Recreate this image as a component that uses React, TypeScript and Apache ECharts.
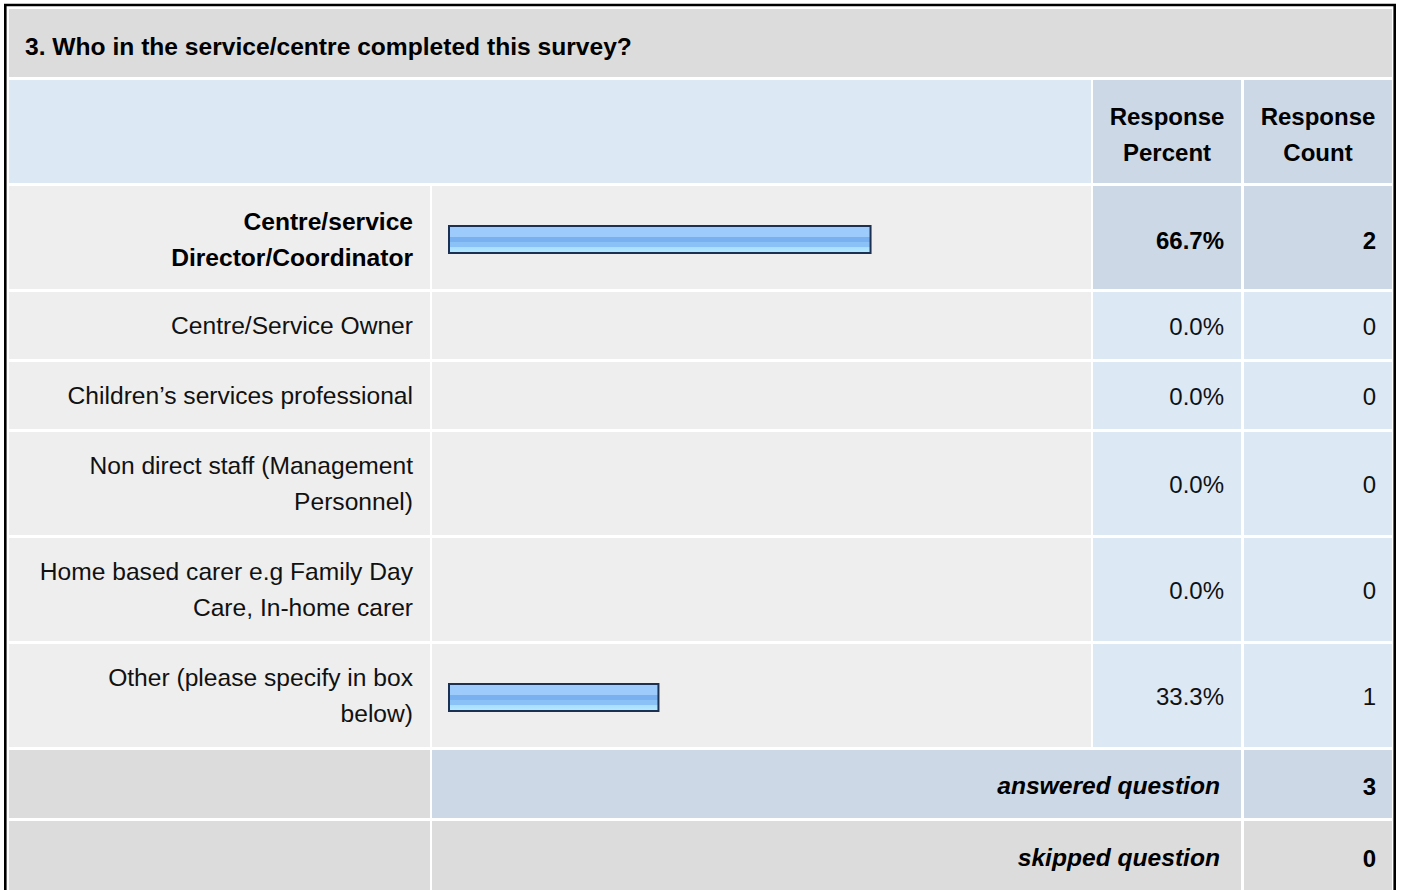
import React, { useEffect, useRef } from "react";
import * as echarts from "echarts";

// ---------- data ----------
const questionTitle = "3. Who in the service/centre completed this survey?";
const headerPercent = "Response\nPercent";
const headerCount = "Response\nCount";
const categories = [
  "Centre/service\nDirector/Coordinator",
  "Centre/Service Owner",
  "Children\u2019s services professional",
  "Non direct staff (Management\nPersonnel)",
  "Home based carer e.g Family Day\nCare, In-home carer",
  "Other (please specify in box\nbelow)",
];
const responsePercent = [66.7, 0.0, 0.0, 0.0, 0.0, 33.3];
const responseCount = [2, 0, 0, 0, 0, 1];
const answeredLabel = "answered question";
const skippedLabel = "skipped question";
const answeredCount = 3;
const skippedCount = 0;

// ---------- layout ----------
const FONT = '"Liberation Sans", Arial, Helvetica, sans-serif';
const FS = 24;
const LH = 36;
const WIDE = 1.025;
const C0 = [9, 430];
const C1 = [432, 1091];
const C2 = [1093, 1241];
const C3 = [1244, 1392];
const TITLE_ROW = [9, 77];
const HEAD_ROW = [80, 183];
const ROWS = [
  [186, 289],
  [292, 359],
  [362, 429],
  [432, 535],
  [538, 641],
  [644, 747],
];
const ANS_ROW = [750, 818];
const SKIP_ROW = [821, 900];

const GRAY_DARK = "#dcdcdc";
const GRAY_LIGHT = "#eeeeee";
const BLUE_LIGHT = "#dde8f5";
const BLUE_DARK = "#ccd8e6";
const TEXT = "#111111";

const BAR_LEFT = 448;
const BAR_FULL = 635;

function rect(x0: number, x1: number, y0: number, y1: number, fill: string) {
  return {
    type: "rect",
    shape: { x: x0, y: y0, width: x1 - x0, height: y1 - y0 },
    style: { fill },
    silent: true,
  };
}

function text(
  str: string,
  x: number,
  y: number,
  align: string,
  opts: { bold?: boolean; italic?: boolean; wide?: boolean } = {}
) {
  return {
    type: "text",
    x,
    y,
    scaleX: opts.wide ? WIDE : 1,
    silent: true,
    style: {
      text: str,
      fill: opts.bold ? "#000" : TEXT,
      fontSize: FS,
      fontFamily: FONT,
      fontWeight: opts.bold ? "bold" : "normal",
      fontStyle: opts.italic ? "italic" : "normal",
      lineHeight: LH,
      textAlign: align,
      textVerticalAlign: "middle",
    },
  };
}

const mid = (r: number[]) => (r[0] + r[1]) / 2;

export default function App() {
  const ref = useRef<HTMLDivElement>(null);

  useEffect(() => {
    document.body.style.margin = "0";
    const chart = echarts.init(ref.current!, null, { renderer: "svg" });

    const topIdx = responseCount.indexOf(Math.max(...responseCount));

    const elements: any[] = [];
    // title
    elements.push(rect(C0[0], C3[1], TITLE_ROW[0], TITLE_ROW[1], GRAY_DARK));
    elements.push(text(questionTitle, 25, mid(TITLE_ROW) + 4, "left", { bold: true, wide: true }));
    // header
    elements.push(rect(C0[0], C1[1], HEAD_ROW[0], HEAD_ROW[1], BLUE_LIGHT));
    elements.push(rect(C2[0], C2[1], HEAD_ROW[0], HEAD_ROW[1], BLUE_DARK));
    elements.push(rect(C3[0], C3[1], HEAD_ROW[0], HEAD_ROW[1], BLUE_DARK));
    elements.push(text(headerPercent, mid(C2), mid(HEAD_ROW) + 3, "center", { bold: true }));
    elements.push(text(headerCount, mid(C3), mid(HEAD_ROW) + 3, "center", { bold: true }));
    // rows
    categories.forEach((cat, i) => {
      const r = ROWS[i];
      const hi = i === topIdx;
      elements.push(rect(C0[0], C0[1], r[0], r[1], GRAY_LIGHT));
      elements.push(rect(C1[0], C1[1], r[0], r[1], GRAY_LIGHT));
      elements.push(rect(C2[0], C2[1], r[0], r[1], hi ? BLUE_DARK : BLUE_LIGHT));
      elements.push(rect(C3[0], C3[1], r[0], r[1], hi ? BLUE_DARK : BLUE_LIGHT));
      const cy = mid(r) + (i === 0 ? 2.5 : 0.5);
      elements.push(text(cat, 413, cy, "right", { bold: hi, wide: true }));
      elements.push(text(responsePercent[i].toFixed(1) + "%", 1224, cy, "right", { bold: hi }));
      elements.push(text(String(responseCount[i]), 1376, cy, "right", { bold: hi }));
    });
    // answered
    elements.push(rect(C0[0], C0[1], ANS_ROW[0], ANS_ROW[1], GRAY_DARK));
    elements.push(rect(C1[0], C2[1], ANS_ROW[0], ANS_ROW[1], BLUE_DARK));
    elements.push(rect(C3[0], C3[1], ANS_ROW[0], ANS_ROW[1], BLUE_DARK));
    elements.push(text(answeredLabel, 1220, mid(ANS_ROW) + 2, "right", { bold: true, italic: true, wide: true }));
    elements.push(text(String(answeredCount), 1376, mid(ANS_ROW) + 2, "right", { bold: true }));
    // skipped
    elements.push(rect(C0[0], C0[1], SKIP_ROW[0], SKIP_ROW[1], GRAY_DARK));
    elements.push(rect(C1[0], C2[1], SKIP_ROW[0], SKIP_ROW[1], GRAY_DARK));
    elements.push(rect(C3[0], C3[1], SKIP_ROW[0], SKIP_ROW[1], GRAY_DARK));
    elements.push(text(skippedLabel, 1220, 858, "right", { bold: true, italic: true, wide: true }));
    elements.push(text(String(skippedCount), 1376, 858, "right", { bold: true }));
    // frame
    elements.push({
      type: "rect",
      shape: { x: 5.3, y: 5, width: 1389.4, height: 920 },
      style: { fill: "none", stroke: "#000", lineWidth: 2.6 },
      silent: true,
    });

    const grids: any[] = [];
    const xAxes: any[] = [];
    const yAxes: any[] = [];
    const series: any[] = [];
    const barFill = new echarts.graphic.LinearGradient(0, 0, 0, 1, [
      { offset: 0, color: "#9dcbfb" },
      { offset: 0.4, color: "#9dcbfb" },
      { offset: 0.41, color: "#78b0f0" },
      { offset: 0.6, color: "#78b0f0" },
      { offset: 0.61, color: "#8ac2f7" },
      { offset: 0.76, color: "#8ac2f7" },
      { offset: 0.77, color: "#a8dcff" },
      { offset: 1, color: "#b4ecff" },
    ]);
    categories.forEach((cat, i) => {
      const r = ROWS[i];
      grids.push({
        left: BAR_LEFT,
        width: BAR_FULL,
        top: r[0] + 2,
        height: r[1] - r[0],
        containLabel: false,
      });
      xAxes.push({ type: "value", gridIndex: i, min: 0, max: 100, show: false });
      yAxes.push({ type: "category", gridIndex: i, data: [cat], show: false });
      const v = responsePercent[i];
      series.push({
        type: "bar",
        xAxisIndex: i,
        yAxisIndex: i,
        barWidth: 29,
        silent: true,
        itemStyle: { color: barFill, borderColor: "#1c3152", borderWidth: 2 },
        data: [v === 0 ? { value: v, itemStyle: { borderWidth: 0 } } : v],
      });
    });

    chart.setOption({
      animation: false,
      backgroundColor: "#ffffff",
      grid: grids,
      xAxis: xAxes,
      yAxis: yAxes,
      series,
      graphic: { elements },
    });

    return () => chart.dispose();
  }, []);

  return <div ref={ref} style={{ width: 1401, height: 890 }} />;
}
